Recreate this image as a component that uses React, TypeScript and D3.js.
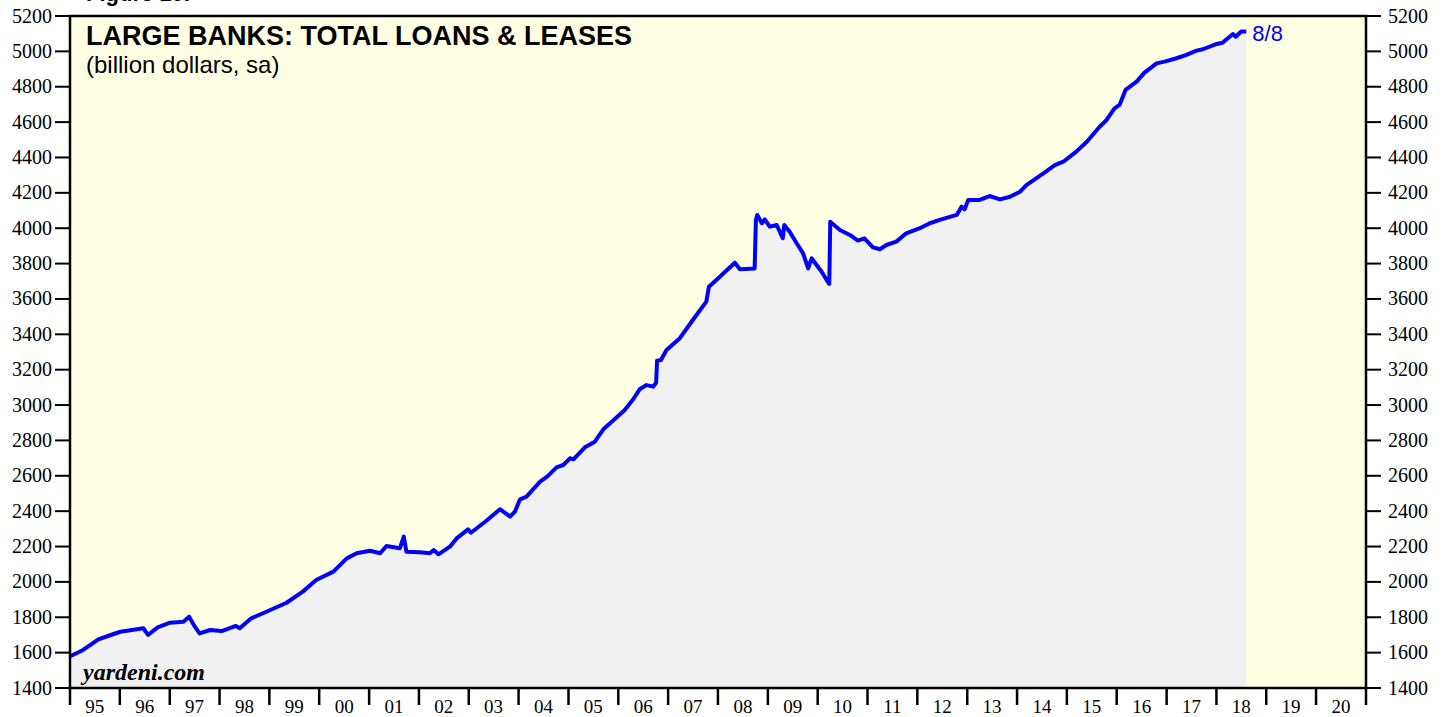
import React from "react";
import * as d3 from "d3";

const dates: string[] = [
  "1995-01-06","1995-04-07","1995-07-28","1995-10-06","1996-01-05","1996-03-29","1996-06-21","1996-07-26","1996-10-04",
  "1997-01-03","1997-04-11","1997-05-23","1997-07-04","1997-08-08","1997-10-24","1998-01-16","1998-05-01","1998-05-29",
  "1998-08-21","1999-01-08","1999-05-07","1999-09-03","1999-12-10","2000-04-14","2000-07-21","2000-10-01","2001-01-08",
  "2001-03-23","2001-05-08","2001-08-14","2001-09-12","2001-10-01","2002-01-08","2002-03-22","2002-04-19","2002-05-24",
  "2002-08-16","2002-10-04","2002-12-27","2003-01-17","2003-05-10","2003-08-18","2003-10-31","2003-12-05","2004-01-12",
  "2004-02-28","2004-06-07","2004-08-04","2004-10-05","2004-11-24","2005-01-11","2005-02-06","2005-05-01","2005-07-13",
  "2005-09-13","2005-11-24","2006-02-17","2006-04-20","2006-06-06","2006-07-27","2006-09-13","2006-10-05","2006-10-12",
  "2006-11-10","2006-12-20","2007-03-28","2007-07-01","2007-10-08","2007-10-27","2008-01-15","2008-05-04","2008-06-10",
  "2008-09-26","2008-10-05","2008-10-15","2008-11-18","2008-12-09","2009-01-15","2009-03-07","2009-04-20","2009-05-01",
  "2009-06-10","2009-07-31","2009-09-16","2009-10-23","2009-11-18","2009-12-24","2010-01-30","2010-03-08","2010-03-27",
  "2010-04-03","2010-06-13","2010-08-25","2010-10-23","2010-12-09","2011-02-10","2011-04-02","2011-05-19","2011-07-31",
  "2011-10-12","2012-01-19","2012-04-02","2012-06-13","2012-10-16","2012-11-21","2012-12-13","2013-01-08","2013-04-02",
  "2013-06-14","2013-08-29","2013-11-10","2014-01-22","2014-03-10","2014-07-13","2014-10-05","2014-12-06","2015-03-11",
  "2015-05-27","2015-08-29","2015-10-19","2015-12-16","2016-01-22","2016-03-06","2016-05-26","2016-07-23","2016-10-19",
  "2016-12-16","2017-03-14","2017-05-26","2017-08-08","2017-09-24","2018-01-03","2018-02-14","2018-05-02","2018-05-23",
  "2018-07-01","2018-08-08"
];

const loans: number[] = [
  1581,1615,1675,1694,1718,1728,1738,1700,1743,
  1769,1775,1803,1747,1709,1728,1722,1751,1738,
  1794,1841,1882,1945,2011,2058,2133,2162,2176,
  2162,2203,2190,2256,2171,2167,2162,2180,2156,
  2199,2246,2297,2278,2346,2411,2369,2397,2467,
  2482,2567,2599,2648,2661,2699,2693,2761,2793,
  2863,2912,2972,3033,3089,3113,3104,3126,3251,
  3255,3311,3378,3481,3585,3669,3726,3805,3768,
  3772,4046,4075,4028,4050,4009,4018,3943,4018,
  3980,3915,3858,3773,3830,3792,3754,3707,3685,
  4037,3990,3962,3930,3943,3892,3881,3905,3924,
  3971,4000,4028,4047,4075,4122,4107,4160,4160,
  4182,4163,4178,4206,4244,4310,4357,4376,4433,
  4489,4574,4612,4678,4697,4782,4829,4880,4932,
  4942,4961,4980,5004,5012,5042,5049,5098,5083,
  5112,5112
];

const yTicks: number[] = [1400,1600,1800,2000,2200,2400,2600,2800,3000,3200,3400,3600,3800,4000,4200,4400,4600,4800,5000,5200];
const yearLabels: string[] = ["95","96","97","98","99","00","01","02","03","04","05","06","07","08","09","10","11","12","13","14","15","16","17","18","19","20"];

const title = "LARGE BANKS: TOTAL LOANS & LEASES";
const subtitle = "(billion dollars, sa)";
const lastLabel = "8/8";
const source = "yardeni.com";

const W = 1448, H = 717;
const L = 70, R = 1366, T = 16, B = 688;

export default function App() {
  const parse = d3.timeParse("%Y-%m-%d");
  const data = dates.map((d, i) => ({ date: parse(d) as Date, value: loans[i] }));
  const x = d3.scaleTime().domain([new Date(1995, 0, 1), new Date(2021, 0, 1)]).range([L, R]);
  const y = d3.scaleLinear().domain([1400, 5200]).range([B, T]);
  const line = d3.line<{ date: Date; value: number }>().x(d => x(d.date)).y(d => y(d.value));
  const area = d3.area<{ date: Date; value: number }>().x(d => x(d.date)).y0(B).y1(d => y(d.value));
  const yearTicks = d3.range(1995, 2022).map(yr => new Date(yr, 0, 1));
  const last = data[data.length - 1];
  const serif = "'Liberation Serif', 'Times New Roman', serif";
  const sans = "'Liberation Sans', Arial, sans-serif";

  return (
    <svg width={W} height={H} style={{ position: "absolute", left: 0, top: 0, background: "#fff" }}>
      <text x={86} y={1} fontFamily={sans} fontWeight="bold" fontSize={22} fill="#000">Figure 10.</text>
      <rect x={L} y={T} width={R - L} height={B - T} fill="#FFFFE3" />
      <path d={area(data) || ""} fill="#F1F1F1" />
      <path d={line(data) || ""} fill="none" stroke="#0000FF" strokeWidth={4} strokeLinejoin="round" />
      <rect x={L} y={T} width={R - L} height={B - T} fill="none" stroke="#000" strokeWidth={2.5} />
      {yTicks.map(v => (
        <g key={v}>
          <line x1={55} x2={L} y1={y(v)} y2={y(v)} stroke="#000" strokeWidth={2} />
          <line x1={R} x2={1381} y1={y(v)} y2={y(v)} stroke="#000" strokeWidth={2} />
          <text x={52} y={y(v) + 6.5} textAnchor="end" fontFamily={serif} fontSize={20} fill="#000">{v}</text>
          <text x={1388} y={y(v) + 6.5} textAnchor="start" fontFamily={serif} fontSize={20} fill="#000">{v}</text>
        </g>
      ))}
      {yearTicks.map((d, i) => (
        <line key={i} x1={x(d)} x2={x(d)} y1={B} y2={705} stroke="#000" strokeWidth={2.5} />
      ))}
      {yearLabels.map((lab, i) => (
        <text key={lab} x={x(new Date(1995 + i, 6, 2))} y={713} textAnchor="middle" fontFamily={serif} fontSize={19} fill="#000">{lab}</text>
      ))}
      <text x={86} y={45} fontFamily={sans} fontWeight="bold" fontSize={27} fill="#000">{title}</text>
      <text x={86} y={73} fontFamily={sans} fontSize={24} fill="#000">{subtitle}</text>
      <text x={x(last.date) + 6} y={41} fontFamily={sans} fontSize={22} fill="#0000FF">{lastLabel}</text>
      <text x={83} y={680} fontFamily={serif} fontWeight="bold" fontStyle="italic" fontSize={24} fill="#000">{source}</text>
    </svg>
  );
}
